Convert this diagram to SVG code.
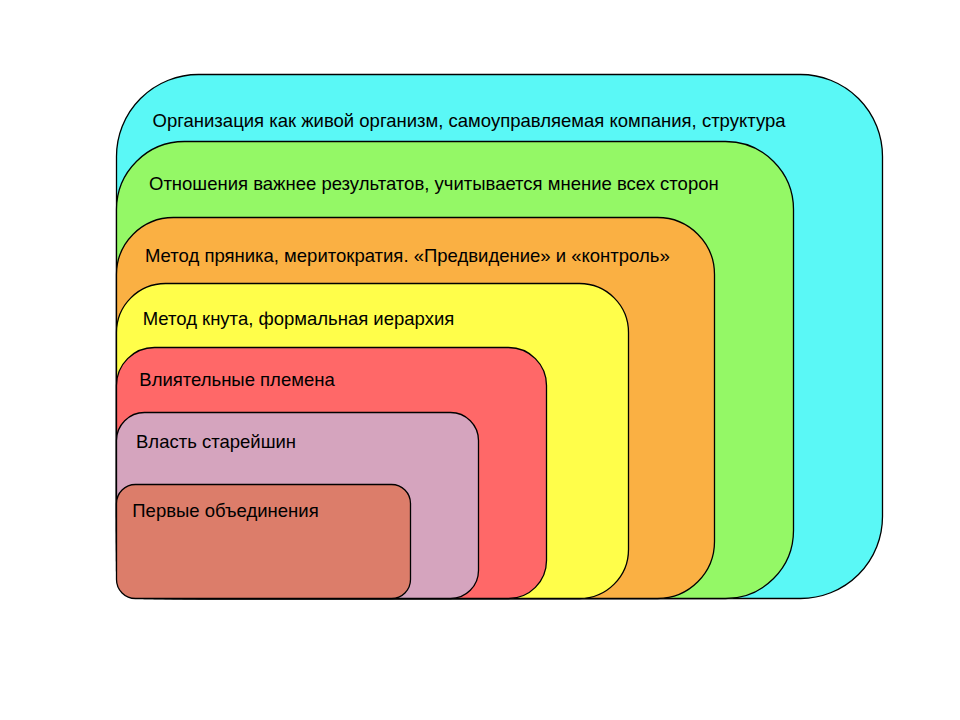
<svg xmlns="http://www.w3.org/2000/svg" width="960" height="720" viewBox="0 0 960 720">
<style>
rect.layer{stroke:#000;stroke-width:1.3}
text{font-family:"Liberation Sans",Arial,sans-serif;font-size:18.5px;fill:#000}
</style>
<rect width="960" height="720" fill="#fff"/>
<g id="layer7">
<rect class="layer" x="116.5" y="74.5" width="766" height="524" rx="82" ry="82" fill="#5AF8F6"/>
<text x="152.5" y="126.7">Организация как живой организм, самоуправляемая компания, структура</text>
</g>
<g id="layer6">
<rect class="layer" x="116.5" y="141.5" width="677" height="457" rx="68" ry="68" fill="#94F866"/>
<text x="149" y="190">Отношения важнее результатов, учитывается мнение всех сторон</text>
</g>
<g id="layer5">
<rect class="layer" x="116.5" y="217.5" width="598" height="381" rx="57" ry="57" fill="#FAB043"/>
<text x="145" y="261.7">Метод пряника, меритократия. «Предвидение» и «контроль»</text>
</g>
<g id="layer4">
<rect class="layer" x="116.5" y="283.5" width="512" height="315" rx="49" ry="49" fill="#FFFE4A"/>
<text x="142.7" y="325">Метод кнута, формальная иерархия</text>
</g>
<g id="layer3">
<rect class="layer" x="116.5" y="347.5" width="430" height="251" rx="38" ry="38" fill="#FF6868"/>
<text x="139.3" y="386">Влиятельные племена</text>
</g>
<g id="layer2">
<rect class="layer" x="116.5" y="412.5" width="362" height="186" rx="28" ry="28" fill="#D5A4BE"/>
<text x="136" y="448.3">Власть старейшин</text>
</g>
<g id="layer1">
<rect class="layer" x="116.5" y="484.5" width="294" height="114" rx="19" ry="19" fill="#DC7D6A"/>
<text x="132.3" y="516.7">Первые объединения</text>
</g>
<g id="connectors"/>
</svg>
